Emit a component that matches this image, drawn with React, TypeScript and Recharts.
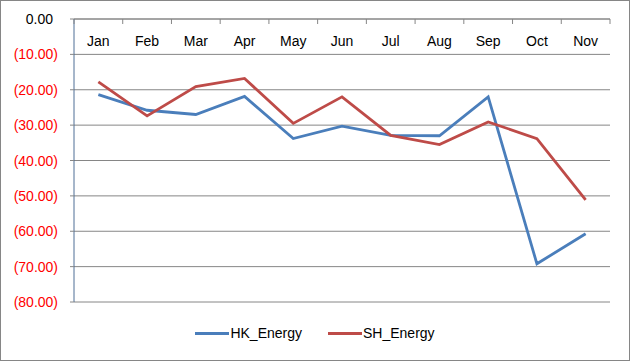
import React from 'react'
import { LineChart, Line, XAxis, YAxis, CartesianGrid, Legend } from 'recharts'

const months = ['Jan', 'Feb', 'Mar', 'Apr', 'May', 'Jun', 'Jul', 'Aug', 'Sep', 'Oct', 'Nov']
const hkEnergy = [-21.4, -25.8, -27.0, -21.9, -33.8, -30.3, -32.9, -33.0, -22.0, -69.2, -60.7]
const shEnergy = [-17.8, -27.4, -19.1, -16.8, -29.5, -22.0, -32.9, -35.5, -29.1, -33.8, -51.1]
const yTicks = [0, -10, -20, -30, -40, -50, -60, -70, -80]

const data = months.map((m, i) => ({ month: m, HK_Energy: hkEnergy[i], SH_Energy: shEnergy[i] }))

const FONT = '"Liberation Sans", Arial, sans-serif'
const PLOT_W = 536
const STEP = PLOT_W / months.length

function fmt(v: number) {
  const s = Math.abs(v).toFixed(2)
  return v < 0 ? `(${s})` : s
}

function YTick(props: any) {
  const { x, y, payload } = props
  const v = payload.value as number
  return (
    <text
      x={v < 0 ? x + 2 : x - 3}
      y={y}
      textAnchor="end"
      dominantBaseline="central"
      fontSize={14}
      fontFamily={FONT}
      fill={v < 0 ? '#FF0000' : '#000000'}
    >
      {fmt(v)}
    </text>
  )
}

function XTick(props: any) {
  const { x, payload, index } = props
  // labels sit under the 0 line like Excel, ticks at category boundaries
  const lineY = 19
  return (
    <g>
      <line x1={x - STEP / 2} x2={x - STEP / 2} y1={lineY} y2={lineY + 5} stroke="#868686" />
      {index === months.length - 1 && (
        <line x1={x + STEP / 2} x2={x + STEP / 2} y1={lineY} y2={lineY + 5} stroke="#868686" />
      )}
      <text
        x={x}
        y={lineY + 22}
        textAnchor="middle"
        dominantBaseline="central"
        fontSize={14}
        fontFamily={FONT}
        fill="#000"
      >
        {payload.value}
      </text>
    </g>
  )
}

function LegendContent() {
  const items = [
    { name: 'HK_Energy', color: '#4A7EBB' },
    { name: 'SH_Energy', color: '#BE4B48' },
  ]
  return (
    <div style={{ display: 'flex', justifyContent: 'center', gap: 26, fontFamily: FONT, fontSize: 14 }}>
      {items.map((it) => (
        <div key={it.name} style={{ display: 'flex', alignItems: 'center' }}>
          <span style={{ display: 'inline-block', width: 34, height: 3, background: it.color, marginRight: 1 }} />
          <span>{it.name}</span>
        </div>
      ))}
    </div>
  )
}

export default function App() {
  return (
    <div
      style={{
        position: 'fixed',
        left: 0,
        top: 0,
        width: 628,
        height: 359,
        border: '1px solid #868686',
        background: '#fff',
      }}
    >
      <div style={{ position: 'absolute', left: -1, top: -1 }}>
        <LineChart width={630} height={361} data={data} margin={{ top: 18, right: 20, bottom: 43, left: 0 }}>
          <CartesianGrid horizontal vertical={false} stroke="#868686" strokeOpacity={1} />
          <XAxis
            dataKey="month"
            orientation="top"
            height={1}
            padding={{ left: STEP / 2, right: STEP / 2 }}
            axisLine={{ stroke: '#868686' }}
            tickLine={false}
            tick={<XTick />}
            interval={0}
          />
          <YAxis
            domain={[-80, 0]}
            ticks={yTicks}
            width={74}
            axisLine={{ stroke: '#4F6E96' }}
            tickLine={{ stroke: '#868686' }}
            tickSize={4}
            tickMargin={14}
            tick={<YTick />}
            interval={0}
          />
          <Legend
            content={<LegendContent />}
            wrapperStyle={{ position: 'absolute', top: 325, left: 0, width: 630 }}
          />
          <Line
            type="linear"
            dataKey="HK_Energy"
            stroke="#4A7EBB"
            strokeWidth={2.8}
            dot={false}
            isAnimationActive={false}
          />
          <Line
            type="linear"
            dataKey="SH_Energy"
            stroke="#BE4B48"
            strokeWidth={2.8}
            dot={false}
            isAnimationActive={false}
          />
        </LineChart>
      </div>
    </div>
  )
}
